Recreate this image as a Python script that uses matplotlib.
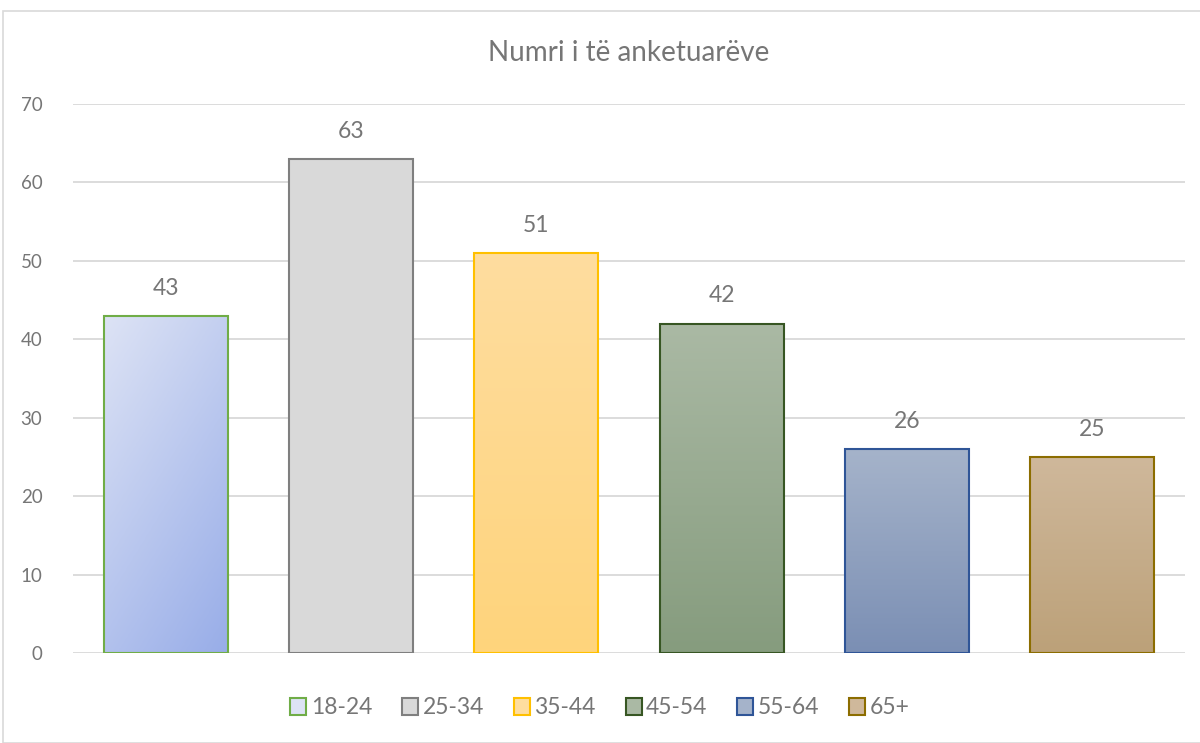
import numpy as np
import matplotlib
matplotlib.use('Agg')
from matplotlib import pyplot as plt
from matplotlib.colors import LinearSegmentedColormap
from matplotlib.patches import Rectangle, Patch

plt.rcParams['font.family'] = ['Lato', 'DejaVu Sans']

# data
grupmosha = ['18-24', '25-34', '35-44', '45-54', '55-64', '65+']
numri = [43, 63, 51, 42, 26, 25]

# gradient (top, bottom), edge colour
ngjyra_lart = ['#dde3f5', '#d9d9d9', '#fedd9f', '#aab9a4', '#a5b3ca', '#cfb89b']
ngjyra_poshte = ['#98ade8', '#d9d9d9', '#ffd47c', '#869c7e', '#7b8fb4', '#bca179']
ngjyra_vija = ['#70ad47', '#7f7f7f', '#ffc000', '#375623', '#2f5597', '#8c6d00']

gri = '#767676'

fig = plt.figure(figsize=(12, 7.43), dpi=100)
fig.patches.append(Rectangle((3 / 1200, 0), 1.1, 1 - 11 / 743, transform=fig.transFigure,
                             fill=False, edgecolor='#d9d9d9', linewidth=1.2))
ax = fig.add_axes([73 / 1200, 1 - 653 / 743, (1185 - 73) / 1200, (653 - 104) / 743])

bars = ax.bar(range(len(numri)), numri, width=0.67, color='none', zorder=3)

for i, b in enumerate(bars):
    x0, y0 = b.get_x(), b.get_y()
    w, h = b.get_width(), b.get_height()
    cmap = LinearSegmentedColormap.from_list('g%d' % i, [ngjyra_lart[i], ngjyra_poshte[i]])
    if i == 0:
        # diagonal gradient
        yy, xx = np.mgrid[0:1:100j, 0:1:100j]
        grad = (xx * 0.6 + yy) / 1.6
    else:
        grad = np.linspace(0, 1, 100).reshape(-1, 1) * np.ones((1, 2))
    im = ax.imshow(grad, cmap=cmap, extent=[x0, x0 + w, y0, y0 + h], origin='upper',
                   aspect='auto', zorder=3, interpolation='bilinear')
    im.set_clip_path(b)
    ax.add_patch(Rectangle((x0, y0), w, h, fill=False, edgecolor=ngjyra_vija[i],
                           linewidth=1.5, zorder=4))
    ax.text(x0 + w / 2, h + 2.2, str(numri[i]), ha='center', va='bottom',
            fontsize=16.5, color=gri)

ax.set_xlim(-0.5, len(numri) - 0.5)
ax.set_ylim(0, 70)
ax.set_yticks(range(0, 71, 10))
ax.set_xticks([])
ax.grid(axis='y', color='#d9d9d9', linewidth=1.3, zorder=0)
ax.tick_params(axis='y', length=0, labelsize=13.5, labelcolor=gri, pad=22)
for s in ax.spines.values():
    s.set_visible(False)

ax.set_title('Numri i të anketuarëve', fontsize=20, color=gri, pad=31)

handles = [Patch(facecolor=ngjyra_lart[i], edgecolor=ngjyra_vija[i], linewidth=1.5)
           for i in range(len(grupmosha))]
fig.legend(handles, grupmosha, loc='center', bbox_to_anchor=(0.5, 1 - 708 / 743),
           ncol=6, frameon=False, fontsize=16.5, labelcolor=gri, handlelength=0.7,
           handleheight=0.7, handletextpad=0.2, columnspacing=1.3)

fig.savefig('out.png', dpi=100)
